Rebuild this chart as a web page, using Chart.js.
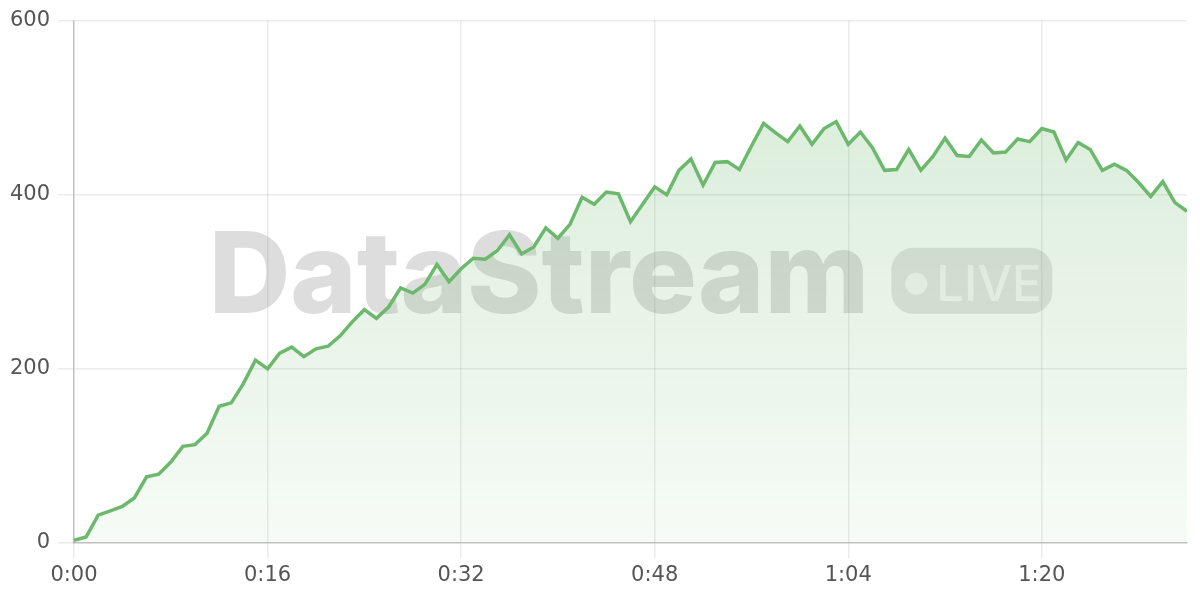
<!DOCTYPE html>
<html>
<head>
<meta charset="utf-8">
<script src="https://cdn.jsdelivr.net/npm/chart.js@4.4.1/dist/chart.umd.min.js"></script>
<style>
  html, body { margin: 0; padding: 0; background: #fff; }
  #wrap { width: 1200px; height: 600px; }
</style>
</head>
<body>
<div id="wrap"><canvas id="streamChart" width="1200" height="600"></canvas></div>
<script>
// one sample per second
const seconds = [];
for (let s = 0; s <= 92; s++) seconds.push(s);

const viewers = [
  3, 7, 32, 37, 42, 52, 76, 79, 93, 111,
  113, 126, 157, 161, 183, 210, 200, 218, 225, 214,
  223, 226, 238, 254, 268, 258, 271, 293, 287, 297,
  320, 300, 315, 327, 326, 336, 354, 332, 340, 362,
  350, 366, 397, 389, 403, 401, 369, 389, 409, 400,
  428, 441, 411, 437, 438, 429, 456, 482, 471, 461,
  479, 458, 476, 484, 458, 472, 454, 428, 429, 452,
  428, 444, 465, 445, 444, 463, 448, 449, 464, 461,
  476, 472, 440, 460, 452, 428, 435, 428, 414, 398,
  415, 391, 381
];

const xTicks = [0, 16, 32, 48, 64, 80];
const yTicks = [0, 200, 400, 600];

const points = seconds.map((s, i) => ({ x: s, y: viewers[i] }));

function fmtTime(v) {
  const m = Math.floor(v / 60);
  const s = v % 60;
  return m + ":" + String(s).padStart(2, "0");
}

// watermark behind the line
const watermark = {
  id: "watermark",
  beforeDatasetsDraw(chart) {
    const { ctx, chartArea } = chart;
    const cx = (chartArea.left + chartArea.right) / 2;
    const cy = (chartArea.top + chartArea.bottom) / 2;
    ctx.save();
    ctx.font = "800 113px Inter, 'Liberation Sans', sans-serif";
    const textW = ctx.measureText("DataStream").width;
    const badgeW = 161, badgeH = 66, gap = 22;
    const total = textW + gap + badgeW;
    const x0 = cx - total / 2;
    ctx.fillStyle = "rgba(120,120,120,0.25)";
    ctx.textBaseline = "alphabetic";
    ctx.fillText("DataStream", x0, cy + 31);

    const bx = x0 + textW + gap, by = cy - 34;
    ctx.fillStyle = "rgba(120,120,120,0.2)";
    ctx.beginPath();
    ctx.roundRect(bx, by, badgeW, badgeH, 22);
    ctx.fill();
    ctx.fillStyle = "rgba(255,255,255,0.7)";
    ctx.beginPath();
    ctx.arc(bx + 25, cy + 2, 11, 0, Math.PI * 2);
    ctx.fill();
    ctx.font = "500 49px Inter, 'Liberation Sans', sans-serif";
    ctx.fillText("LIVE", bx + 45, cy + 19);
    ctx.restore();
  }
};

const ctx = document.getElementById("streamChart").getContext("2d");
const streamChart = new Chart(ctx, {
  type: "line",
  data: {
    datasets: [{
      label: "Viewers",
      data: points,
      borderColor: "#6cb86c",
      borderWidth: 3.5,
      pointRadius: 0,
      tension: 0,
      fill: "origin",
      backgroundColor: (c) => {
        const area = c.chart.chartArea;
        if (!area) return "rgba(108,184,108,0.15)";
        const g = c.chart.ctx.createLinearGradient(0, area.top, 0, area.bottom);
        g.addColorStop(0, "rgba(108,184,108,0.28)");
        g.addColorStop(1, "rgba(108,184,108,0.06)");
        return g;
      }
    }]
  },
  options: {
    responsive: false,
    animation: false,
    layout: { padding: { top: 19, right: 13, left: 0, bottom: 0 } },
    scales: {
      x: {
        type: "linear",
        min: 0,
        max: 92,
        afterBuildTicks: (axis) => { axis.ticks = xTicks.map(v => ({ value: v })); },
        afterFit: (axis) => { axis.height = 57; },
        grid: { color: "rgba(0,0,0,0.08)", tickLength: 15, lineWidth: 1.5 },
        border: { color: "rgba(0,0,0,0.18)", width: 1.5 },
        ticks: {
          color: "#555",
          font: { family: "'DejaVu Sans', sans-serif", size: 21 },
          padding: 5,
          maxRotation: 0,
          callback: (v) => fmtTime(v)
        }
      },
      y: {
        min: 0,
        max: 600,
        afterBuildTicks: (axis) => { axis.ticks = yTicks.map(v => ({ value: v })); },
        afterFit: (axis) => { axis.width = 74; },
        grid: { color: "rgba(0,0,0,0.08)", tickLength: 16, lineWidth: 1.5 },
        border: { color: "rgba(0,0,0,0.18)", width: 1.5 },
        ticks: {
          color: "#555",
          font: { family: "'DejaVu Sans', sans-serif", size: 21 },
          padding: 8
        }
      }
    },
    plugins: {
      legend: { display: false },
      tooltip: { enabled: false }
    }
  },
  plugins: [watermark]
});
</script>
</body>
</html>
